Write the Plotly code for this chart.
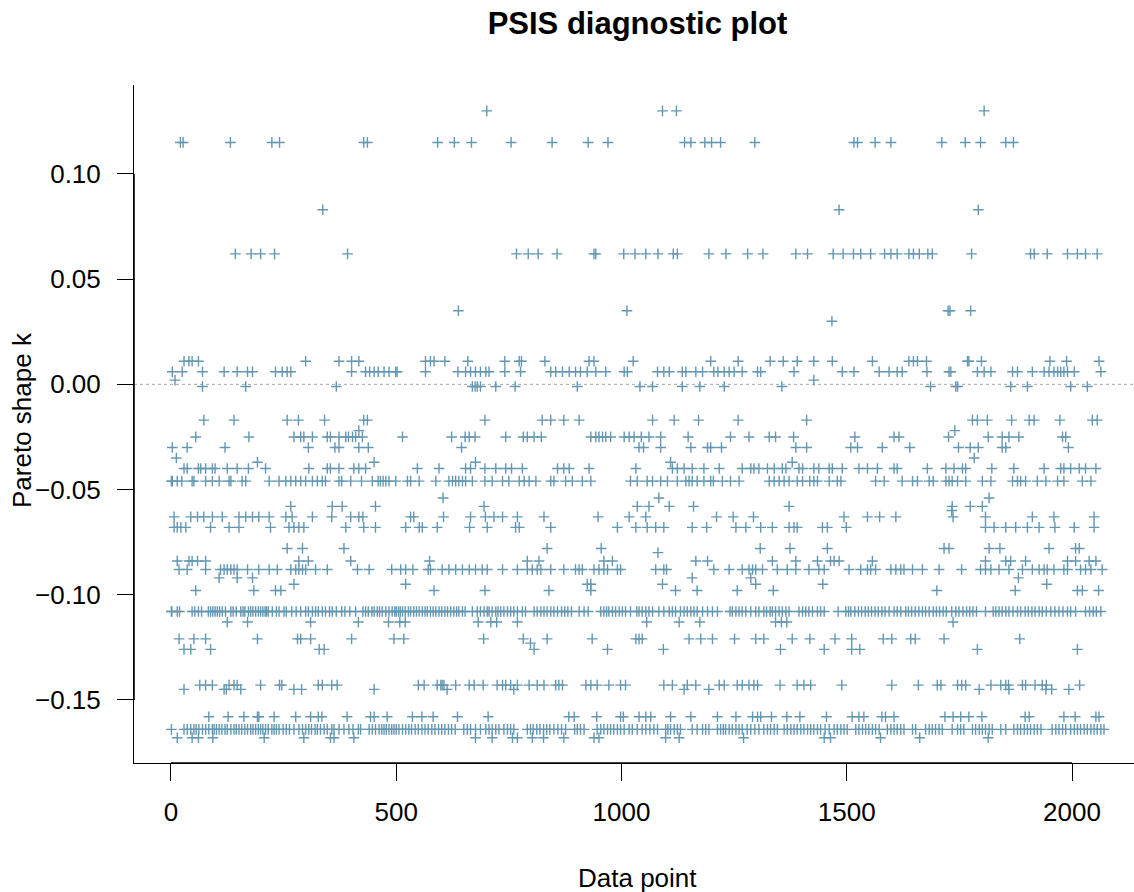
import plotly.graph_objects as go

# ---------------- data: data-point indices read on each Pareto-k level ----------------
x_k_p130 = [701, 1091, 1122, 1805]
x_k_p115 = [21, 27, 132, 224, 241, 428, 436, 592, 629, 667, 755, 846, 926, 970, 1140, 1154,
            1185, 1200, 1220, 1296, 1516, 1524, 1563, 1598, 1711, 1763, 1797, 1853, 1870]
x_k_p083 = [337, 1483, 1792]
x_k_p062 = [143, 178, 199, 230, 392, 767, 793, 815, 857, 939, 943, 1005, 1030, 1054, 1081, 1115,
            1124, 1194, 1232, 1280, 1314, 1387, 1413, 1470, 1492, 1515, 1531, 1553, 1584, 1598,
            1612, 1638, 1648, 1661, 1680, 1690, 1777, 1908, 1916, 1945, 1990, 2012, 2030, 2056]
x_k_p035 = [638, 1012, 1725, 1729, 1775]
x_k_p030 = [1467]
x_k_p011 = [29, 40, 47, 61, 299, 373, 401, 417, 565, 576, 584, 608, 659, 741, 773, 778, 830, 928,
            939, 1026, 1198, 1259, 1330, 1359, 1390, 1427, 1468, 1557, 1638, 1648, 1657, 1677,
            1768, 1771, 1799, 1951, 1988, 2060]
x_k_p006 = [3, 25, 70, 118, 147, 170, 181, 232, 247, 258, 266, 401, 432, 441, 451, 460, 473, 484,
            499, 502, 565, 637, 654, 665, 676, 687, 699, 706, 741, 776, 843, 854, 869, 884, 898,
            909, 924, 943, 965, 1006, 1013, 1080, 1094, 1106, 1135, 1143, 1165, 1180, 1205, 1214,
            1228, 1239, 1250, 1268, 1302, 1309, 1383, 1490, 1516, 1572, 1594, 1612, 1623, 1678,
            1727, 1731, 1790, 1805, 1820, 1868, 1879, 1912, 1938, 1949, 1960, 1968, 1975, 1982,
            1990, 2005, 2064]
x_k_p002 = [9, 1427]
x_k_m001 = [70, 166, 367, 669, 675, 680, 687, 721, 764, 902, 1041, 1069, 1135, 1174, 1228, 1356,
            1686, 1742, 1746, 1864, 1901, 1997, 2034]
x_k_m017 = [73, 140, 258, 283, 341, 428, 436, 697, 824, 843, 872, 906, 1069, 1117, 1171, 1259,
            1411, 1779, 1790, 1812, 1866, 1905, 1916, 1973, 2045, 2056]
x_k_m022 = [417, 1740]
x_k_m025 = [55, 173, 273, 288, 295, 314, 347, 354, 373, 388, 394, 403, 410, 425, 514, 623, 653,
            662, 675, 743, 782, 791, 806, 822, 932, 943, 950, 958, 965, 976, 1006, 1017, 1028,
            1044, 1061, 1087, 1148, 1242, 1283, 1328, 1342, 1382, 1518, 1605, 1616, 1726, 1814,
            1845, 1860, 1882, 1979, 1986]
x_k_m030 = [3, 36, 120, 305, 364, 373, 417, 438, 645, 1039, 1049, 1087, 1154, 1191, 1198, 1222,
            1387, 1411, 1509, 1524, 1579, 1640, 1748, 1774, 1792, 1845, 1853, 1992]
x_k_m035 = [12, 1783]
x_k_m037 = [192, 451, 676, 1109, 1379]
x_k_m040 = [29, 36, 61, 66, 77, 92, 98, 125, 147, 172, 210, 306, 347, 354, 373, 406, 417, 432,
            547, 595, 654, 665, 697, 721, 743, 756, 780, 858, 872, 884, 928, 1032, 1113, 1124,
            1139, 1157, 1183, 1217, 1268, 1287, 1294, 1305, 1324, 1339, 1357, 1365, 1394, 1402,
            1427, 1438, 1461, 1468, 1490, 1527, 1546, 1568, 1605, 1612, 1679, 1720, 1738, 1757,
            1764, 1822, 1871, 1938, 1975, 1982, 1997, 2016, 2030, 2053]
x_k_m046 = [1, 3, 14, 24, 47, 51, 77, 92, 107, 129, 133, 158, 166, 218, 240, 255, 266, 277, 288,
            299, 314, 325, 336, 343, 373, 379, 399, 423, 447, 460, 465, 471, 477, 484, 499, 525,
            532, 551, 588, 617, 625, 632, 639, 647, 654, 669, 697, 713, 736, 750, 773, 784, 795,
            810, 843, 850, 876, 891, 913, 932, 1020, 1035, 1057, 1069, 1087, 1102, 1124, 1143,
            1150, 1157, 1168, 1183, 1198, 1204, 1224, 1242, 1261, 1328, 1339, 1350, 1361, 1372,
            1390, 1402, 1418, 1427, 1435, 1461, 1479, 1487, 1564, 1583, 1623, 1646, 1657, 1683,
            1692, 1720, 1727, 1734, 1746, 1764, 1801, 1820, 1868, 1879, 1886, 1897, 1923, 1942,
            1968, 1982, 2023, 2042]
x_k_m054 = [604, 1083, 1816]
x_k_m058 = [266, 358, 380, 454, 695, 1035, 1061, 1106, 1160, 1372, 1734, 1774, 1801]
x_k_m060 = [1733]
x_k_m063 = [7, 44, 59, 73, 92, 114, 151, 166, 181, 195, 218, 255, 269, 314, 357, 399, 417, 426,
            532, 539, 605, 665, 698, 717, 736, 769, 828, 948, 1017, 1054, 1211, 1248, 1293, 1494,
            1546, 1573, 1609, 1736, 1808, 1912, 1960, 2049]
x_k_m068 = [7, 14, 22, 33, 88, 129, 151, 221, 262, 273, 284, 295, 388, 428, 454, 521, 551, 558,
            591, 663, 702, 765, 773, 843, 991, 1032, 1057, 1076, 1094, 1157, 1189, 1254, 1276,
            1309, 1335, 1372, 1383, 1390, 1446, 1457, 1499, 1808, 1827, 1853, 1875, 1901, 1927,
            1962, 2005, 2049]
x_k_m078 = [258, 292, 384, 835, 955, 1308, 1374, 1457, 1716, 1727, 1816, 1840, 1949, 2008, 2016]
x_k_m080 = [1081]
x_k_m084 = [14, 40, 47, 59, 77, 284, 305, 399, 574, 791, 817, 961, 980, 1165, 1191, 1335, 1387,
            1435, 1464, 1472, 1483, 1557, 1808, 1853, 1864, 1897, 1990, 2008, 2038, 2053]
x_k_m088 = [18, 36, 77, 110, 118, 125, 133, 140, 147, 170, 195, 218, 236, 266, 277, 284, 292,
            299, 321, 347, 414, 440, 490, 510, 521, 537, 571, 576, 602, 617, 632, 647, 662, 676,
            691, 702, 736, 769, 791, 802, 813, 821, 843, 872, 898, 906, 913, 939, 950, 961, 969,
            991, 998, 1076, 1094, 1100, 1205, 1239, 1268, 1283, 1291, 1298, 1313, 1346, 1368,
            1387, 1416, 1438, 1450, 1505, 1531, 1546, 1553, 1564, 1598, 1609, 1620, 1627, 1646,
            1668, 1705, 1755, 1797, 1808, 1820, 1838, 1860, 1890, 1912, 1927, 1938, 1945, 1960,
            1982, 1990, 2019, 2030, 2042, 2067]
x_k_m092 = [107, 147, 181, 1157, 1287, 1881]
x_k_m095 = [273, 521, 924, 932, 1091, 1298, 1447, 1944]
x_k_m098 = [55, 184, 232, 244, 584, 697, 839, 932, 1120, 1168, 1257, 1337, 1700, 1874, 2012,
            2023, 2059]
x_k_m108 = [1, 2, 14, 19, 47, 53, 61, 68, 83, 88, 93, 98, 103, 108, 114, 121, 133, 138, 145,
            155, 160, 164, 172, 177, 182, 188, 194, 199, 204, 209, 212, 216, 225, 234, 240, 251,
            256, 268, 278, 288, 299, 305, 314, 321, 327, 336, 343, 352, 358, 367, 379, 386, 397,
            410, 426, 432, 438, 446, 451, 458, 463, 469, 477, 484, 491, 497, 500, 505, 509, 514,
            520, 527, 532, 539, 545, 551, 558, 564, 569, 576, 582, 588, 595, 601, 608, 614, 621,
            628, 634, 639, 647, 653, 669, 680, 687, 695, 702,
            706, 713, 721, 726, 732, 739, 747, 754, 761, 769, 780, 787, 806, 813, 821, 828, 835,
            843, 850, 858, 867, 874, 881, 889, 906, 917, 926, 954, 961, 967, 972, 980, 987, 995,
            1002, 1009, 1020, 1034, 1039, 1046, 1054, 1061, 1069, 1083, 1094, 1106, 1113, 1120,
            1131, 1139, 1146, 1154, 1161, 1168, 1180, 1191, 1202, 1213, 1241, 1246, 1254, 1261,
            1268, 1276, 1287, 1298, 1305, 1316, 1322, 1330, 1335, 1342, 1350, 1357, 1365, 1372,
            1394, 1402, 1409, 1416, 1424,
            1435, 1442, 1450, 1481, 1498, 1504, 1509, 1518, 1526, 1533, 1541, 1548, 1555, 1563,
            1570, 1578, 1585, 1594, 1605, 1612, 1620, 1631, 1637, 1644, 1652, 1660, 1668, 1675,
            1683, 1692, 1699, 1706, 1714, 1721, 1733, 1742, 1749, 1758, 1766, 1773, 1780, 1788,
            1808, 1825, 1831, 1838, 1845, 1853, 1860, 1869, 1879, 1886, 1896, 1903, 1911, 1918,
            1927, 1934, 1943, 1953, 1962, 1971, 1980, 1990, 1997, 2008, 2030, 2039, 2047, 2054,
            2064]
x_k_m113 = [125, 170, 310, 416, 483, 508, 520, 682, 710, 723, 769, 1056, 1128, 1174, 1342, 1355,
            1367, 1736]
x_k_m121 = [18, 51, 77, 192, 281, 288, 310, 401, 495, 517, 694, 782, 835, 935, 1032, 1039, 1046,
            1150, 1176, 1202, 1251, 1298, 1316, 1379, 1418, 1474, 1511, 1581, 1600, 1642, 1652,
            1716, 1884]
x_k_m123 = [798]
x_k_m126 = [29, 44, 88, 329, 340, 806, 969, 1093, 1353, 1450, 1511, 1529, 1790, 2012]
x_k_m143 = [64, 77, 92, 129, 140, 147, 199, 241, 246, 327, 336, 357, 369, 549, 562, 591, 599, 602,
            606, 632, 662, 673, 693, 724, 736, 743, 754, 769, 795, 813, 828, 854, 861, 869, 921,
            932, 946, 972, 998, 1009, 1094, 1113, 1146, 1165, 1217, 1228, 1257, 1268, 1283, 1294,
            1302, 1352, 1390, 1405, 1420, 1489, 1600, 1659, 1701, 1709, 1746, 1755, 1764, 1820,
            1842, 1853, 1859, 1890, 1897, 1918, 1934, 1943, 2017]
x_k_m145 = [29, 118, 123, 155, 273, 290, 451, 613, 761, 1139, 1194, 1794, 1860, 1942, 1955, 1993]
x_k_m158 = [84, 127, 162, 192, 195, 229, 277, 310, 327, 335, 391, 443, 451, 480, 536, 557, 582,
            636, 704, 883, 895, 945, 998, 1004, 1039, 1054, 1065, 1109, 1154, 1213, 1254, 1291,
            1302, 1309, 1333, 1367, 1396, 1455, 1512, 1527, 1538, 1578, 1586, 1605, 1718, 1736,
            1753, 1771, 1800, 1896, 1905, 1982, 2007, 2053, 2060]
x_k_m164 = [1, 29, 36, 44, 51, 56, 62, 70, 77, 84, 92, 96, 101, 107, 113, 120, 125, 133, 140, 145,
            151, 157, 164, 170, 177, 182, 188, 194, 199, 204, 210, 216, 224, 229, 234, 240, 249,
            256, 263, 273, 284, 292, 299, 306, 312, 320, 325, 332, 340, 347, 357, 362, 373, 384,
            395, 404, 416, 421, 440, 447, 454, 462, 468, 473, 478, 484, 490, 495, 500, 506, 514,
            521, 528, 534, 542, 549, 557, 564, 571, 579, 586, 594, 601, 608, 616, 623, 631, 650,
            658, 665, 676, 687,
            699, 706, 713, 721, 728, 739, 747, 754, 761, 791, 798, 804, 812, 819, 827, 834, 841,
            850, 859, 867, 876, 896, 902, 909, 917, 946, 954, 961, 969, 976, 983, 991, 998, 1006,
            1017, 1024, 1035, 1046, 1054, 1063, 1072, 1080, 1098, 1103, 1109, 1117, 1124, 1131,
            1157, 1168, 1180, 1187, 1194, 1213, 1220, 1226, 1231, 1239, 1246, 1254, 1261, 1268,
            1279, 1287, 1296, 1305, 1316, 1324, 1331, 1339, 1346, 1361, 1368, 1376, 1383, 1390,
            1398, 1405, 1413, 1420,
            1427, 1435, 1442, 1452, 1461, 1472, 1479, 1487, 1494, 1501, 1520, 1527, 1535, 1542,
            1549, 1557, 1564, 1572, 1590, 1598, 1605, 1612, 1620, 1627, 1646, 1653, 1675, 1683,
            1690, 1697, 1705, 1712, 1734, 1746, 1753, 1760, 1779, 1786, 1794, 1801, 1808, 1816,
            1823, 1842, 1853, 1871, 1879, 1886, 1894, 1901, 1908, 1916, 1923, 1931, 1956, 1964,
            1971, 1979, 1986, 1997, 2005, 2012, 2019, 2027, 2034, 2042, 2049, 2056, 2064, 2071]
x_k_m168 = [14, 47, 61, 93, 207, 295, 354, 362, 406, 676, 713, 758, 769, 802, 827, 872, 939, 950,
            1098, 1128, 1271, 1450, 1464, 1575, 1662, 1814]

# Pareto k value of each level (same order as the index lists below)
k_levels = [0.130, 0.115, 0.083, 0.062, 0.035, 0.030, 0.011, 0.006, 0.002, -0.001,
            -0.017, -0.022, -0.025, -0.030, -0.035, -0.037, -0.040, -0.046, -0.054, -0.058,
            -0.060, -0.063, -0.068, -0.078, -0.080, -0.084, -0.088, -0.092, -0.095, -0.098,
            -0.108, -0.113, -0.121, -0.123, -0.126, -0.143, -0.145, -0.158, -0.164, -0.168]
level_indices = [x_k_p130, x_k_p115, x_k_p083, x_k_p062, x_k_p035, x_k_p030, x_k_p011, x_k_p006,
                 x_k_p002, x_k_m001, x_k_m017, x_k_m022, x_k_m025, x_k_m030, x_k_m035, x_k_m037,
                 x_k_m040, x_k_m046, x_k_m054, x_k_m058, x_k_m060, x_k_m063, x_k_m068, x_k_m078,
                 x_k_m080, x_k_m084, x_k_m088, x_k_m092, x_k_m095, x_k_m098, x_k_m108, x_k_m113,
                 x_k_m121, x_k_m123, x_k_m126, x_k_m143, x_k_m145, x_k_m158, x_k_m164, x_k_m168]

x_ticks = [0, 500, 1000, 1500, 2000]
y_ticks = [-0.15, -0.10, -0.05, 0.00, 0.05, 0.10]
y_tick_text = ["\u22120.15", "\u22120.10", "\u22120.05", "0.00", "0.05", "0.10"]

# ---------------- build ----------------
xs, ys = [], []
for k, idx in zip(k_levels, level_indices):
    xs.extend(idx)
    ys.extend([k] * len(idx))

FONT = "Liberation Sans, Arial, Helvetica, sans-serif"
W, H = 1134, 892
L, R, T, B = 134, 0, 85, 129

fig = go.Figure()
fig.add_trace(go.Scatter(
    x=xs, y=ys, mode="markers",
    marker=dict(symbol="cross-thin-open", size=7.6, color="#6497b1",
                line=dict(color="#6497b1", width=1.4)),
    hoverinfo="x+y", showlegend=False,
))

fig.add_hline(y=0, line=dict(color="#a8a8a8", width=1, dash="3px,3px"), layer="below")

# axis segments between the outer ticks (R draws them over the box line)
fig.add_shape(type="line", xref="x", yref="paper", x0=x_ticks[0], x1=x_ticks[-1], y0=0, y1=0,
              line=dict(color="black", width=1.6))
fig.add_shape(type="line", xref="paper", yref="y", x0=0, x1=0, y0=y_ticks[0], y1=y_ticks[-1],
              line=dict(color="black", width=1.6))

fig.update_layout(
    width=W, height=H,
    margin=dict(l=L, r=R, t=T, b=B, pad=0),
    paper_bgcolor="white", plot_bgcolor="white",
    font=dict(family=FONT, size=26, color="black"),
    title=dict(text="<b>PSIS diagnostic plot</b>", font=dict(family=FONT, size=31, color="black"),
               xref="container", x=637.5 / W, xanchor="center",
               yref="container", y=1 - 23 / H, yanchor="middle"),
    xaxis=dict(range=[-82, 2137.6], tickvals=x_ticks, ticks="outside", ticklen=17,
               tickwidth=1, tickcolor="black", showline=True, linecolor="black", linewidth=1,
               showgrid=False, zeroline=False, ticklabelstandoff=9,
               tickfont=dict(family=FONT, size=26, color="black")),
    yaxis=dict(range=[-0.1800, 0.1423], tickvals=y_ticks, ticktext=y_tick_text,
               ticks="outside", ticklen=16, tickwidth=1, tickcolor="black", showline=True,
               linecolor="black", linewidth=1, showgrid=False, zeroline=False,
               ticklabelstandoff=11, tickfont=dict(family=FONT, size=26, color="black")),
    annotations=[
        dict(text="Data point", xref="paper", yref="paper", x=(637.5 - L) / (W - L - R),
             y=-(878 - (H - B)) / (H - T - B), xanchor="center", yanchor="middle",
             showarrow=False, font=dict(family=FONT, size=26, color="black")),
        dict(text="Pareto shape k", xref="paper", yref="paper", x=-(L - 22) / (W - L - R),
             y=(H - B - 420) / (H - T - B), xanchor="center", yanchor="middle", textangle=-90,
             showarrow=False, font=dict(family=FONT, size=26, color="black")),
    ],
)

fig.write_html("out.html")
